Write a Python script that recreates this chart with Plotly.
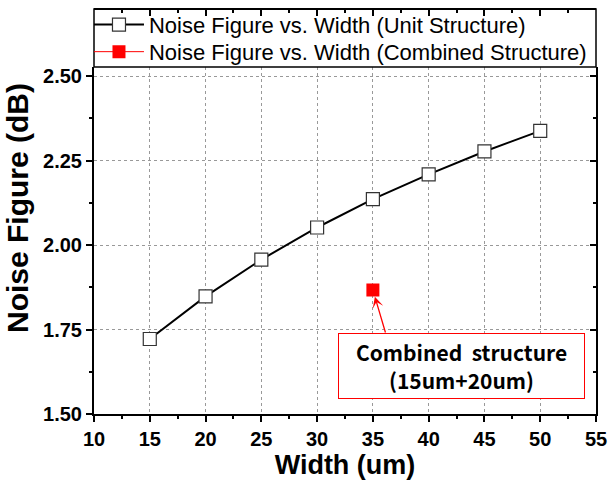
import plotly.graph_objects as go

# Noise figure of the unit structure at each device width
width_um = [15, 20, 25, 30, 35, 40, 45, 50]
noise_figure_db = [1.722, 1.848, 1.957, 2.052, 2.136, 2.209, 2.277, 2.338]

# Combined structure (15um + 20um), plotted at its total width
combined_width_um = [35]
combined_nf_db = [1.867]

x_ticks = [10, 15, 20, 25, 30, 35, 40, 45, 50, 55]
y_ticks = [1.50, 1.75, 2.00, 2.25, 2.50]

FONT = "Arial, Liberation Sans, sans-serif"
X_RANGE = [10, 55]
Y_RANGE = [1.5, 2.527]
# data area sits below a framed legend strip at the top
Y_DOMAIN = [0, 0.8568]

fig = go.Figure()

fig.add_trace(go.Scatter(
    x=width_um, y=noise_figure_db,
    mode="lines+markers",
    name="Noise Figure vs. Width (Unit Structure)",
    line=dict(color="black", width=2),
    marker=dict(symbol="square", size=13, color="white",
                line=dict(color="#333333", width=1.2)),
    legend="legend",
))

# drawn on the overlaid top/right axes so that frame is rendered
fig.add_trace(go.Scatter(
    x=combined_width_um, y=combined_nf_db,
    mode="lines+markers",
    name="Noise Figure vs. Width (Combined Structure)",
    line=dict(color="red", width=1),
    marker=dict(symbol="square", size=13, color="red",
                line=dict(color="red", width=0)),
    xaxis="x2", yaxis="y2",
    legend="legend2",
))

axis_common = dict(
    showline=True, linecolor="black", linewidth=2,
    ticks="outside", tickcolor="black", tickwidth=1.5, ticklen=6,
    tickfont=dict(family=FONT, size=20, color="black", weight="bold"),
    showgrid=True, gridcolor="#999999", griddash="dot", gridwidth=1,
    zeroline=False,
)

legend_common = dict(
    xanchor="left", yanchor="top",
    bgcolor="rgba(0,0,0,0)", borderwidth=0,
    font=dict(family=FONT, size=22, color="black"),
    itemwidth=50,
)

fig.update_layout(
    width=609, height=484,
    margin=dict(l=94, r=13, t=9, b=70, autoexpand=False),
    paper_bgcolor="white", plot_bgcolor="white",
    showlegend=True,
    legend=dict(**legend_common, x=-0.01, y=1.013),
    legend2=dict(**legend_common, x=-0.01, y=0.946),
    xaxis=dict(
        **axis_common,
        range=X_RANGE, tickvals=x_ticks,
        ticktext=[str(v) for v in x_ticks],
        minor=dict(dtick=2.5, tick0=10, ticks="outside", ticklen=3,
                   tickwidth=1.5, tickcolor="black", showgrid=False),
        title=dict(text="Width (um)", standoff=4,
                   font=dict(family=FONT, size=27, color="black", weight="bold")),
    ),
    yaxis=dict(
        **axis_common,
        domain=Y_DOMAIN,
        range=Y_RANGE, tickvals=y_ticks,
        ticktext=[f"{v:.2f}" for v in y_ticks],
        minor=dict(dtick=0.125, tick0=1.5, ticks="outside", ticklen=3,
                   tickwidth=1.5, tickcolor="black", showgrid=False),
    ),
    # top edge of the frame, ticks pointing inward
    xaxis2=dict(
        overlaying="x", side="top", anchor="free", position=1.0, range=X_RANGE,
        showline=True, linecolor="black", linewidth=2,
        ticks="inside", ticklen=6, tickwidth=1.5, tickcolor="black",
        tickvals=x_ticks, showticklabels=False, showgrid=False, zeroline=False,
        minor=dict(dtick=2.5, tick0=10, ticks="inside", ticklen=3,
                   tickwidth=1.5, tickcolor="black", showgrid=False),
    ),
    # right edge of the frame, ticks pointing inward
    yaxis2=dict(
        overlaying="y", side="right", anchor="x2", range=Y_RANGE, domain=Y_DOMAIN,
        showline=True, linecolor="black", linewidth=2,
        ticks="inside", ticklen=6, tickwidth=1.5, tickcolor="black",
        tickvals=y_ticks, showticklabels=False, showgrid=False, zeroline=False,
        minor=dict(dtick=0.125, tick0=1.5, ticks="inside", ticklen=3,
                   tickwidth=1.5, tickcolor="black", showgrid=False),
    ),
)

# border of the legend strip
fig.add_shape(
    type="rect", xref="x domain", yref="paper",
    x0=0, x1=1, y0=Y_DOMAIN[1], y1=1.0,
    fillcolor="rgba(0,0,0,0)", line=dict(color="black", width=1.5),
    layer="above",
)

# y-axis title, centred on the full frame height
fig.add_annotation(
    x=-0.1534, y=0.5086, xref="paper", yref="paper",
    text="<b>Noise Figure (dB)</b>", textangle=-90, showarrow=False,
    xanchor="center", yanchor="middle",
    font=dict(family=FONT, size=30, color="black"),
)

# callout box for the combined structure
fig.add_annotation(
    x=42.9, y=1.642, xref="x", yref="y",
    text="<b>Combined  structure</b><br><b>(15um+20um)</b>",
    showarrow=False, xanchor="center", yanchor="middle",
    width=243, height=62,
    font=dict(family="Noto Sans CJK KR, Noto Sans, sans-serif", size=21, color="black"),
    bordercolor="red", borderwidth=1, bgcolor="white",
)

# arrow from the callout to the combined-structure point
fig.add_annotation(
    x=combined_width_um[0], y=combined_nf_db[0], xref="x", yref="y",
    text="", showarrow=True, ax=13, ay=44, axref="pixel", ayref="pixel",
    arrowhead=3, arrowsize=1.4, arrowwidth=1.3, arrowcolor="red", standoff=7,
)

fig.write_html("out.html")
